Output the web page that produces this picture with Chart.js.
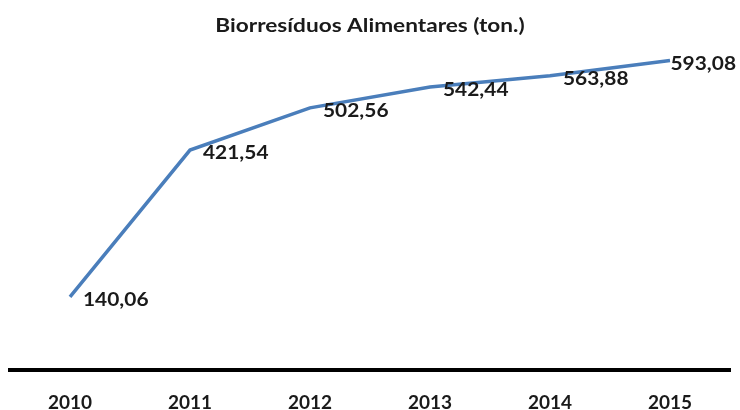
<!DOCTYPE html>
<html>
<head>
<meta charset="utf-8">
<script src="https://cdn.jsdelivr.net/npm/chart.js@4.4.1/dist/chart.umd.min.js"></script>
<style>
  html, body { margin: 0; padding: 0; background: #fff; }
  #wrap { width: 740px; height: 410px; }
</style>
</head>
<body>
<div id="wrap"><canvas id="bio-chart"></canvas></div>
<script>
// dados do gráfico
const anos = ['2010', '2011', '2012', '2013', '2014', '2015'];
const toneladas = [140.06, 421.54, 502.56, 542.44, 563.88, 593.08];
const tituloGrafico = 'Biorresíduos Alimentares (ton.)';

const fmt = (v) => v.toFixed(2).replace('.', ',');

// título e rótulos de valor (texto ligeiramente esticado, como no original)
const rotulosPlugin = {
    id: 'rotulos',
    afterDraw(chart) {
        const ctx = chart.ctx;
        ctx.save();
        ctx.fillStyle = '#1a1a1a';
        ctx.textBaseline = 'alphabetic';

        // título
        ctx.font = 'bold 19.5px Lato';
        ctx.textAlign = 'center';
        ctx.save();
        ctx.translate(chart.width / 2, 32);
        ctx.scale(1.16, 1);
        ctx.fillText(tituloGrafico, 0, 0);
        ctx.restore();

        // valores
        const meta = chart.getDatasetMeta(0);
        const sx = 1.1;
        ctx.font = 'bold 19px Lato';
        ctx.textAlign = 'left';
        meta.data.forEach((pt, i) => {
            const txt = fmt(toneladas[i]);
            const w = ctx.measureText(txt).width * sx;
            // não deixar o rótulo sair da área do gráfico
            const x = Math.min(pt.x + 13, chart.width - 4 - w);
            ctx.save();
            ctx.translate(x, pt.y + 9);
            ctx.scale(sx, 1);
            ctx.fillText(txt, 0, 0);
            ctx.restore();
        });
        ctx.restore();
    }
};

const ctx = document.getElementById('bio-chart');
new Chart(ctx, {
    type: 'line',
    plugins: [rotulosPlugin],
    data: {
        labels: anos,
        datasets: [{
            label: tituloGrafico,
            data: toneladas,
            borderColor: '#4a7ebb',
            backgroundColor: '#4a7ebb',
            borderWidth: 3.5,
            pointRadius: 0,
            tension: 0,
            clip: false
        }]
    },
    options: {
        responsive: true,
        maintainAspectRatio: false,
        animation: false,
        layout: { padding: { left: 10, right: 10, top: 57, bottom: -25 } },
        plugins: {
            legend: { display: false },
            tooltip: { enabled: false },
            title: { display: false }
        },
        scales: {
            x: {
                offset: true,
                grid: { display: false, drawTicks: false, tickLength: 0 },
                border: { display: true, color: '#000', width: 4 },
                ticks: {
                    color: '#1a1a1a',
                    padding: 23,
                    font: { family: 'Lato', size: 19, weight: 'bold', lineHeight: 1 }
                }
            },
            y: {
                display: false,
                min: 0,
                max: 600
            }
        }
    }
});
</script>
</body>
</html>
